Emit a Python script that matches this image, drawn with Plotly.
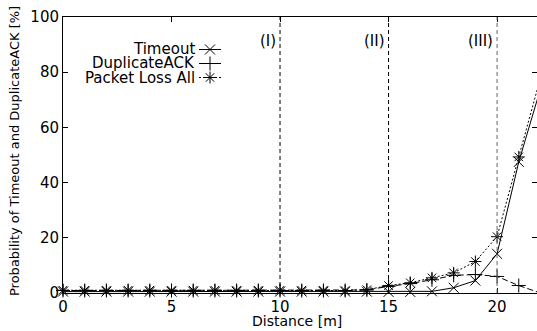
import plotly.graph_objects as go

# ---- data ----
distance = [0, 1, 2, 3, 4, 5, 6, 7, 8, 9, 10, 11, 12, 13, 14, 15, 16, 17, 18, 19, 20, 21, 22]
timeout = [0.5, 0.5, 0.5, 0.5, 0.5, 0.5, 0.5, 0.5, 0.5, 0.5, 0.5, 0.5, 0.5, 0.5, 0.5,
           0.4, 0.4, 0.6, 1.9, 4.5, 14.2, 47.5, 74.0]
dup_ack = [0.9, 0.9, 0.9, 0.9, 0.9, 0.9, 0.9, 0.9, 0.9, 0.9, 0.9, 0.9, 0.9, 0.9, 1.1,
           2.4, 3.4, 4.8, 6.4, 6.7, 6.0, 2.7, 0.0]
packet_loss = [1.0, 1.0, 1.0, 1.0, 1.0, 1.0, 1.0, 1.0, 1.0, 1.0, 1.0, 1.0, 1.0, 0.9, 1.2,
               2.7, 3.7, 5.5, 7.3, 11.4, 20.4, 49.3, 78.0]
region_x = [10, 15, 20]
region_labels = ["(I)", "(II)", "(III)"]
series_names = ["Timeout", "DuplicateACK", "Packet Loss All"]
x_ticks = [0, 5, 10, 15, 20]
y_ticks = [0, 20, 40, 60, 80, 100]

FONT = "DejaVu Sans"
W, H = 537, 331
L, R, T, B = 63, 0, 17, 38
pw, ph = W - L - R, H - T - B

# helpers: pixel -> paper coordinates
def px_x(p):
    return (p - L) / pw

def px_y(p):
    return (H - B - p) / ph

styles = [
    dict(dash="solid", symbol="x-thin-open"),
    dict(dash="6px,3px", symbol="cross-thin-open"),
    dict(dash="2px,2px", symbol="asterisk-open"),
]
series = [timeout, dup_ack, packet_loss]

fig = go.Figure()
for name, vals, st in zip(series_names, series, styles):
    fig.add_trace(go.Scatter(
        x=distance, y=vals, mode="lines+markers", name=name, showlegend=False,
        line=dict(color="black", width=1, dash=st["dash"]),
        marker=dict(symbol=st["symbol"], size=10, color="black",
                    line=dict(color="black", width=1)),
        cliponaxis=False,
    ))

# invisible trace to make the right tick axis render
fig.add_trace(go.Scatter(x=[0], y=[0], yaxis="y2", mode="markers",
                         marker=dict(opacity=0), showlegend=False, hoverinfo="skip"))

# custom legend (text right-aligned, glyph on the right), glyphs in pixel coordinates
leg_rows = [49.5, 63.5, 77.5]
for name, st, yy in zip(series_names, styles, leg_rows):
    fig.add_trace(go.Scatter(
        x=[199, 210, 221], y=[yy, yy, yy], xaxis="x2", yaxis="y3",
        mode="lines", showlegend=False, hoverinfo="skip",
        line=dict(color="black", width=1, dash=st["dash"]),
    ))
    fig.add_trace(go.Scatter(
        x=[210], y=[yy], xaxis="x2", yaxis="y3",
        mode="markers", showlegend=False, hoverinfo="skip",
        marker=dict(symbol=st["symbol"], size=10, color="black",
                    line=dict(color="black", width=1)),
    ))
    fig.add_annotation(x=px_x(196), y=px_y(yy), xref="paper", yref="paper",
                       text=name, showarrow=False, xanchor="right", yanchor="middle",
                       borderpad=0,
                       font=dict(family=FONT, size=15, color="black"))

# region lines and labels
for rx, lab in zip(region_x, region_labels):
    fig.add_shape(type="line", x0=rx, x1=rx, y0=0, y1=1, xref="x", yref="paper",
                  line=dict(color="black" if rx != 20 else "#666666", width=1, dash="4px,3px"))
    fig.add_annotation(x=rx, y=px_y(41), xref="x", yref="paper", text=lab,
                       showarrow=False, xanchor="right", yanchor="middle", xshift=-2,
                       font=dict(family=FONT, size=15, color="black"))

# axis titles
fig.add_annotation(x=px_x(14), y=px_y(151), xref="paper", yref="paper",
                   text="Probability of Timeout and DuplicateACK [%]", textangle=-90,
                   showarrow=False, xanchor="center", yanchor="middle",
                   font=dict(family=FONT, size=13, color="black"))
fig.add_annotation(x=px_x(297), y=px_y(321), xref="paper", yref="paper",
                   text="Distance [m]", showarrow=False, xanchor="center", yanchor="middle",
                   borderpad=0,
                   font=dict(family=FONT, size=14, color="black"))

fig.update_layout(
    width=W, height=H,
    margin=dict(l=L, r=R, t=T, b=B, pad=0),
    paper_bgcolor="white", plot_bgcolor="white",
    font=dict(family=FONT, size=15, color="black"),
    xaxis=dict(range=[0, 21.84], tickvals=x_ticks, ticks="inside", ticklen=5,
               tickcolor="black", showline=True, linecolor="black", linewidth=1,
               mirror="ticks", showgrid=False, zeroline=False,
               tickfont=dict(family=FONT, size=15, color="black")),
    yaxis=dict(range=[0, 100], tickvals=y_ticks, ticks="inside", ticklen=5,
               tickcolor="black", showline=True, linecolor="black", linewidth=1,
               mirror=False, showgrid=False, zeroline=False,
               tickfont=dict(family=FONT, size=15, color="black")),
    yaxis2=dict(range=[0, 100], overlaying="y", side="right", tickvals=y_ticks,
                ticks="inside", ticklen=5, tickcolor="black", showline=False,
                showticklabels=False, showgrid=False, zeroline=False),
    xaxis2=dict(range=[L, W - R], overlaying="x", visible=False, anchor="y3"),
    yaxis3=dict(range=[H - B, T], overlaying="y", visible=False, anchor="x2"),
)

fig.write_html(
    "out.html",
    config={"responsive": False, "displayModeBar": False},
    post_script="document.body.style.margin='0';document.body.style.overflow='hidden';",
)
